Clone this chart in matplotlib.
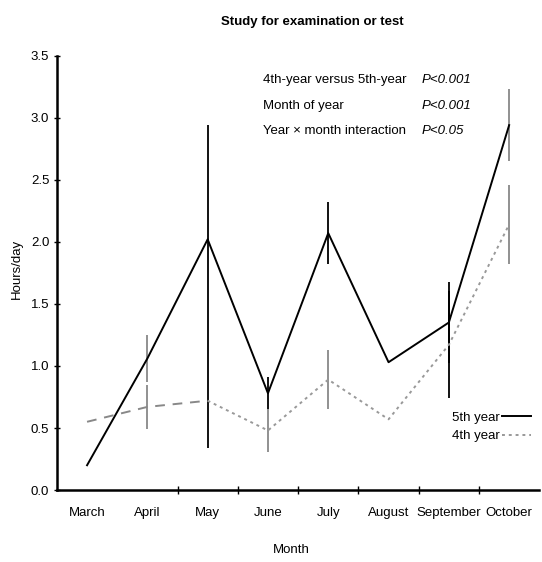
import matplotlib
matplotlib.use('Agg')
import matplotlib.pyplot as plt

plt.rcParams['font.family'] = ['Liberation Sans', 'DejaVu Sans']

# Data
months = ['March', 'April', 'May', 'June', 'July', 'August', 'September', 'October']
fifth_year = [0.20, 1.06, 2.02, 0.78, 2.07, 1.03, 1.35, 2.94]
fifth_err = [0, 0.19, 0.92, 0.13, 0.25, 0, 0.33, 0.29]
fourth_year = [0.55, 0.67, 0.72, 0.48, 0.89, 0.57, 1.17, 2.14]
fourth_err = [0, 0.18, 0.38, 0.17, 0.24, 0, 0.43, 0.32]
stats_labels = ['4th-year versus 5th-year', 'Month of year', 'Year \u00d7 month interaction']
stats_p = ['P<0.001', 'P<0.001', 'P<0.05']

# bar colours per month for the error bars
fifth_bar_colors = ['black', '#888888', 'black', 'black', 'black', 'black', 'black', '#888888']
fourth_bar_colors = ['#888888', '#888888', 'black', '#888888', '#888888', '#888888', 'black', '#888888']

x = list(range(len(months)))
fs = 9.5

fig = plt.figure(figsize=(5.42, 5.62), dpi=100)
ax = fig.add_axes([0.105, 0.128, 0.89, 0.773])

# error bars (no caps)
for xi, v, e, c in zip(x, fourth_year, fourth_err, fourth_bar_colors):
    if e > 0:
        ax.errorbar(xi, v, yerr=e, fmt='none', ecolor=c, elinewidth=1.3, capsize=0)
for xi, v, e, c in zip(x, fifth_year, fifth_err, fifth_bar_colors):
    if e > 0:
        ax.errorbar(xi, v, yerr=e, fmt='none', ecolor=c, elinewidth=1.3, capsize=0)

ax.plot(x, fifth_year, color='black', lw=1.4, label='5th year')
# 4th year: long dashes March-May, fine dots afterwards
ax.plot(x[:3], fourth_year[:3], color='#888888', lw=1.4, ls=(0, (5, 4)))
ax.plot(x[2:], fourth_year[2:], color='#999999', lw=1.4, ls=(0, (1.5, 2)), label='4th year')

ax.set_xlim(-0.5, 7.5)
ax.set_ylim(0, 3.5)
ax.set_yticks([0, 0.5, 1.0, 1.5, 2.0, 2.5, 3.0, 3.5])
ax.set_yticklabels(['0.0', '0.5', '1.0', '1.5', '2.0', '2.5', '3.0', '3.5'], fontsize=fs)
ax.set_xticks(x)
ax.set_xticklabels(months, fontsize=fs)
ax.tick_params(axis='x', which='major', length=0, pad=12)
ax.set_xticks([1.5, 2.5, 3.5, 4.5, 5.5, 6.5], minor=True)
ax.tick_params(axis='x', which='minor', direction='inout', length=6, width=1)
ax.tick_params(axis='y', direction='inout', length=5, width=1, pad=3)

for s in ['top', 'right']:
    ax.spines[s].set_visible(False)
for s in ['left', 'bottom']:
    ax.spines[s].set_linewidth(1.8)

ax.set_xlabel('Month', fontsize=fs)
ax.xaxis.set_label_coords(0.485, -0.125)
ax.set_ylabel('Hours/day', fontsize=fs)
ax.yaxis.set_label_coords(-0.07, 0.51)
fig.text(0.576, 0.961, 'Study for examination or test', ha='center', va='center',
         fontsize=fs, fontweight='bold')

for i, (lab, p) in enumerate(zip(stats_labels, stats_p)):
    yy = 3.30 - i * 0.205
    ax.text(2.92, yy, lab, fontsize=fs, va='center')
    ax.text(5.55, yy, p, fontsize=fs, va='center', style='italic')

ax.legend(loc='center left', bbox_to_anchor=(0.805, 0.145), frameon=False, markerfirst=False,
          fontsize=fs, handlelength=2.2, handletextpad=0.2, borderpad=0, labelspacing=0.45)

fig.savefig('out.png', dpi=100)
